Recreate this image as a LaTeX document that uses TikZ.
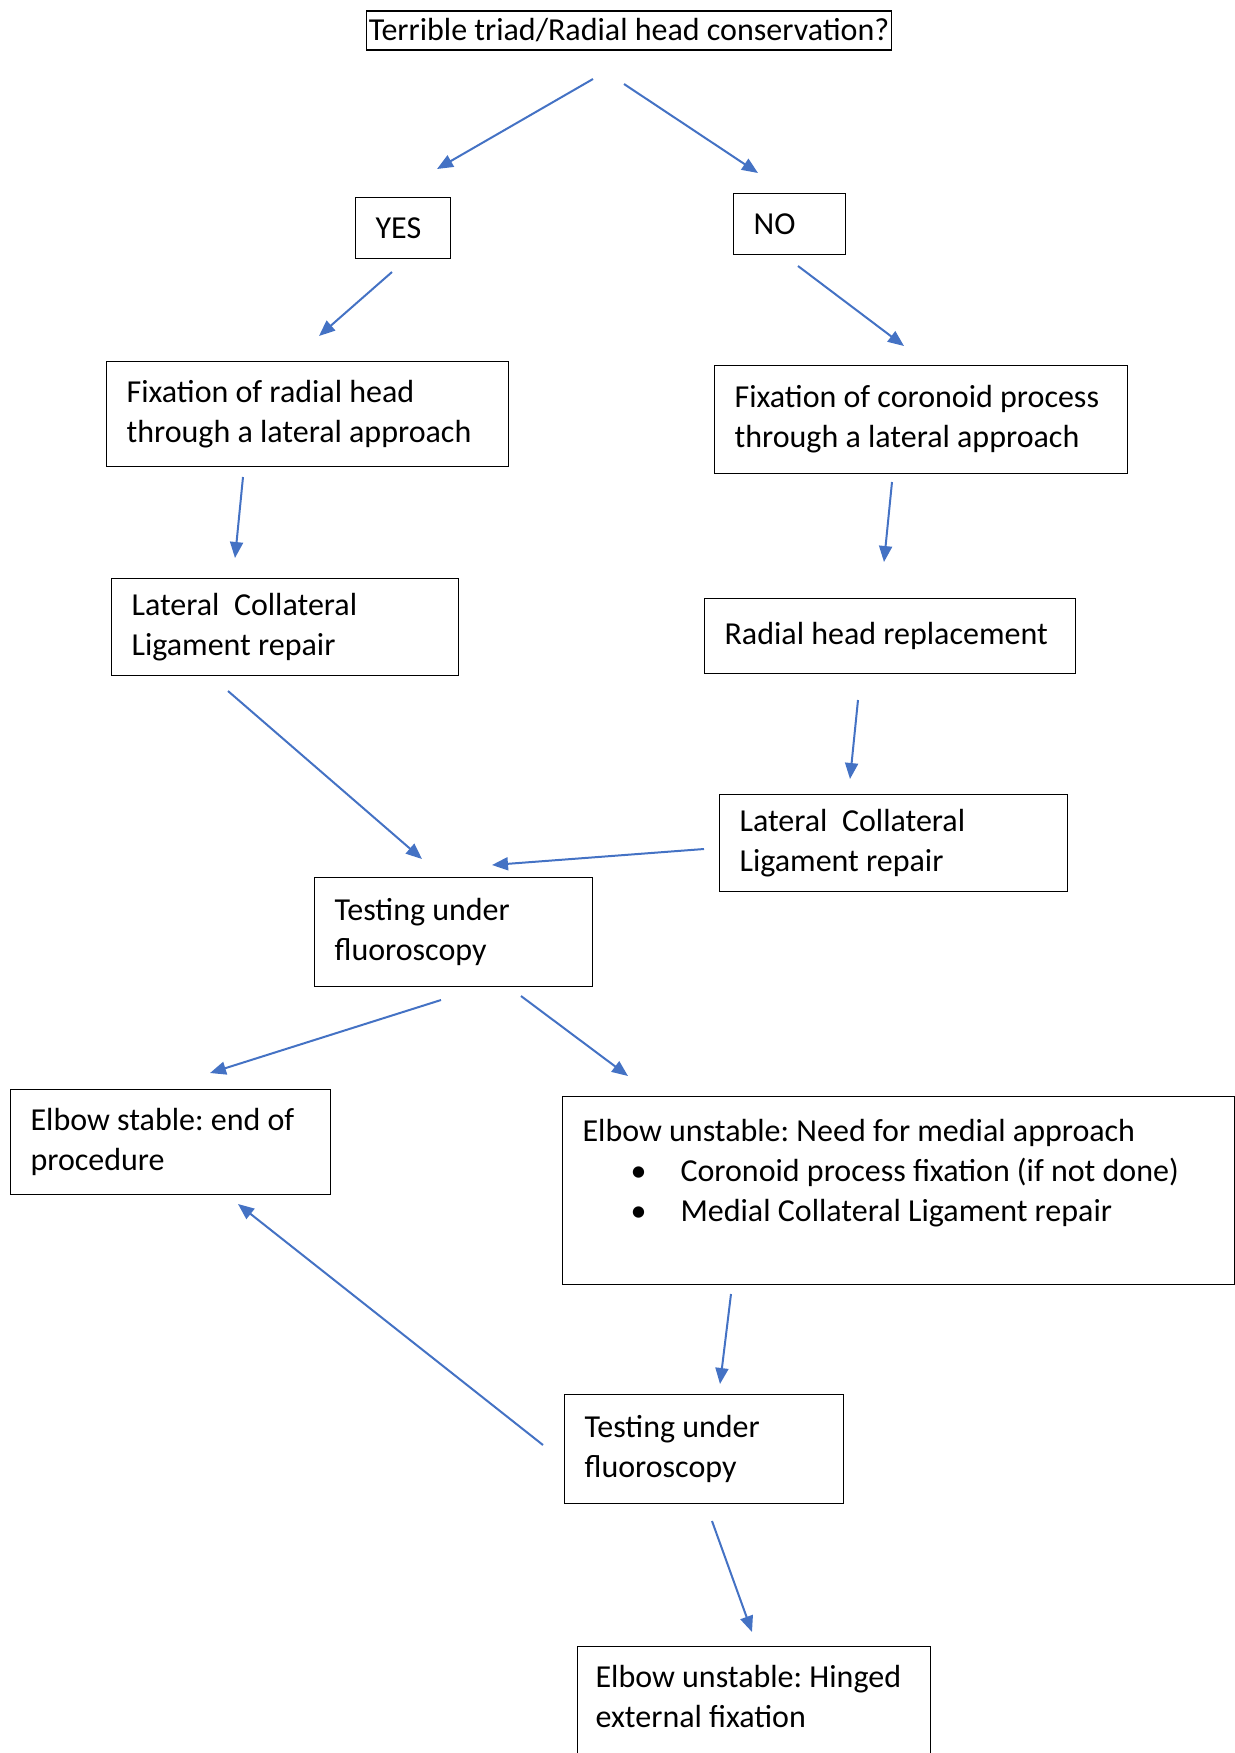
\documentclass[tikz,border=0pt]{standalone}
\usepackage{fontspec}
\setmainfont{Carlito}
\usetikzlibrary{arrows.meta}
\definecolor{flowblue}{RGB}{68,114,196}
\frenchspacing
\tikzset{
  stepbox/.style={draw, rectangle, anchor=north west, align=flush left,
    inner xsep=10pt, inner ysep=0pt, line width=0.6pt,
    font=\fontsize{16}{20}\selectfont},
  flow/.style={->, flowblue, line width=1pt},
}
\newcommand{\bulletitem}{\hspace*{24pt}\textbullet\hspace*{17pt}}

\begin{document}
\begin{tikzpicture}[x=0.5pt, y=-0.5pt, >={Triangle[length=8pt,width=6.5pt]}]
\useasboundingbox (0,0) rectangle (1235,1753);

% boxes
\node[stepbox, anchor=center, inner xsep=1pt, minimum height=19.5pt] (q) at (629,30.5)
     {Terrible triad/Radial head conservation?};
\node[stepbox, text width=27.5pt, minimum height=30.5pt] (yes) at (355,197) {YES};
\node[stepbox, text width=36pt, minimum height=30.5pt] (no) at (733,193) {NO};
\node[stepbox, text width=181pt, minimum height=52.5pt] (fixrad) at (106,361)
     {Fixation of radial head\\through a lateral approach};
\node[stepbox, text width=186.5pt, minimum height=54pt] (fixcor) at (714,365)
     {Fixation of coronoid process\\through a lateral approach};
\node[stepbox, text width=153.5pt, minimum height=48.5pt] (lcl-1) at (111,578)
     {Lateral\ \ Collateral\\Ligament repair};
\node[stepbox, text width=165.5pt, minimum height=37.5pt] (rhr) at (704,598)
     {Radial head replacement};
\node[stepbox, text width=154pt, minimum height=48.5pt] (lcl-2) at (719,794)
     {Lateral\ \ Collateral\\Ligament repair};
\node[stepbox, text width=119pt, minimum height=54.5pt] (test-1) at (314,877)
     {Testing under\\fluoroscopy};
\node[stepbox, text width=140pt, minimum height=52.5pt] (stable) at (10,1089)
     {Elbow stable: end of\\procedure};
\node[stepbox, text width=316pt, minimum height=94pt] (medial) at (562,1096)
     {Elbow unstable: Need for medial approach\\
      \bulletitem Coronoid process fixation (if not done)\\
      \bulletitem Medial Collateral Ligament repair\\ \mbox{}};
\node[stepbox, text width=119.5pt, minimum height=54.5pt] (test-2) at (564,1394)
     {Testing under\\fluoroscopy};
\node[stepbox, text width=158.5pt, inner xsep=9pt, minimum height=70pt] (hinged) at (577,1646)
     {Elbow unstable: Hinged\\external fixation\\ \mbox{}};

% arrow ends
\coordinate (q-yes-s) at (593,79);     \coordinate (q-yes-e) at (437,169);
\coordinate (q-no-s) at (624,84);      \coordinate (q-no-e) at (758,173);
\coordinate (yes-s) at (392,272);      \coordinate (yes-e) at (319,336);
\coordinate (no-s) at (798,266);       \coordinate (no-e) at (904,346);
\coordinate (fixrad-s) at (243,477);   \coordinate (fixrad-e) at (235,558);
\coordinate (fixcor-s) at (892,482);   \coordinate (fixcor-e) at (884,562);
\coordinate (rhr-s) at (858,700);      \coordinate (rhr-e) at (850,779);
\coordinate (lcl-1-s) at (228,691);    \coordinate (lcl-1-e) at (422,859);
\coordinate (lcl-2-s) at (704,849);    \coordinate (lcl-2-e) at (492,865);
\coordinate (test-1-l) at (441,1000);  \coordinate (stable-t) at (210,1073);
\coordinate (test-1-r) at (521,996);   \coordinate (medial-t) at (628,1076);
\coordinate (medial-s) at (731,1294);  \coordinate (medial-e) at (720,1384);
\coordinate (test-2-l) at (543,1445);  \coordinate (stable-b) at (238,1204);
\coordinate (test-2-s) at (712,1521);  \coordinate (hinged-t) at (752,1632);

% arrows
\path[flow] (q-yes-s) edge (q-yes-e);
\path[flow] (q-no-s) edge (q-no-e);
\path[flow] (yes-s) edge (yes-e);
\path[flow] (no-s) edge (no-e);
\path[flow] (fixrad-s) edge (fixrad-e);
\path[flow] (fixcor-s) edge (fixcor-e);
\path[flow] (rhr-s) edge (rhr-e);
\path[flow] (lcl-1-s) edge (lcl-1-e);
\path[flow] (lcl-2-s) edge (lcl-2-e);
\path[flow] (test-1-l) edge (stable-t);
\path[flow] (test-1-r) edge (medial-t);
\path[flow] (medial-s) edge (medial-e);
\path[flow] (test-2-l) edge (stable-b);
\path[flow] (test-2-s) edge (hinged-t);
\end{tikzpicture}
\end{document}
